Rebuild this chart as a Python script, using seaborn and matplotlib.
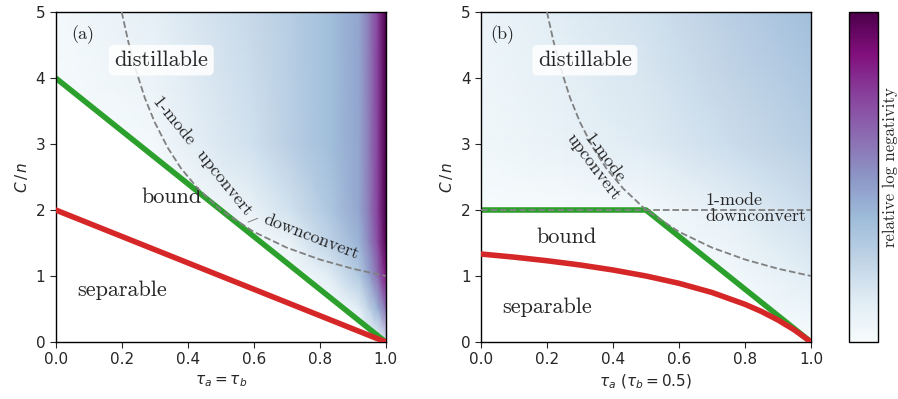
import numpy as np
import matplotlib
matplotlib.use("Agg")
import matplotlib.pyplot as plt
import seaborn as sns

sns.set_style("ticks")
plt.rcParams["font.family"] = ["DejaVu Sans"]
plt.rcParams["mathtext.fontset"] = "dejavusans"
serif = ["cmr10", "DejaVu Serif"]

# ---- panel (a): tau_a = tau_b ----
tau_a_green = [0.0, 1.0]
c_a_green = [4.0, 0.0]
tau_a_red = [0.0, 0.2, 0.4, 0.6, 0.8, 1.0]
c_a_red = [2.0, 1.6, 1.2, 0.8, 0.4, 0.0]

# 1-mode upconvert / downconvert curve (same in both panels)
tau_dash = [0.2, 0.22, 0.24, 0.27, 0.3, 0.34, 0.38, 0.43, 0.5, 0.6, 0.7, 0.8, 0.9, 1.0]
c_dash = [5.0, 4.55, 4.17, 3.70, 3.33, 2.94, 2.63, 2.33, 2.0, 1.67, 1.43, 1.25, 1.11, 1.0]

# relative log negativity
grid_a_tau = [0.0, 0.3, 0.59, 0.71, 0.83, 0.92, 0.95, 0.976, 1.0]
grid_a_c = [0.0, 0.5, 1.0, 1.5, 2.0, 3.0, 5.0]
neg_a = [
    [0.0, 0.0, 0.0, 0.0, 0.0, 0.0, 0.02, 0.05, 0.15],
    [0.0, 0.0, 0.0, 0.0, 0.0, 0.12, 0.25, 0.40, 0.60],
    [0.0, 0.0, 0.0, 0.0, 0.12, 0.30, 0.45, 0.62, 0.85],
    [0.0, 0.0, 0.0, 0.08, 0.25, 0.40, 0.55, 0.72, 0.97],
    [0.0, 0.0, 0.08, 0.18, 0.32, 0.45, 0.58, 0.75, 1.0],
    [0.0, 0.03, 0.18, 0.27, 0.36, 0.45, 0.58, 0.75, 1.0],
    [0.02, 0.10, 0.22, 0.28, 0.36, 0.45, 0.58, 0.75, 1.0],
]

# ---- panel (b): tau_b = 0.5 ----
tau_b_green = [0.0, 0.5, 1.0]
c_b_green = [2.0, 2.0, 0.0]
tau_b_red = [0.0, 0.1, 0.2, 0.3, 0.4, 0.5, 0.6, 0.7, 0.8, 0.85, 0.9, 0.95, 1.0]
c_b_red = [1.333, 1.286, 1.231, 1.167, 1.091, 1.0, 0.889, 0.75, 0.571, 0.462, 0.333, 0.182, 0.0]
tau_b_flat = [0.0, 1.0]
c_b_flat = [2.0, 2.0]

grid_b_tau = [0.0, 0.25, 0.5, 0.75, 1.0]
grid_b_c = [0.0, 1.0, 2.0, 3.0, 4.0, 5.0]
neg_b = [
    [0.0, 0.0, 0.0, 0.0, 0.0],
    [0.0, 0.0, 0.0, 0.02, 0.12],
    [0.0, 0.01, 0.02, 0.10, 0.20],
    [0.04, 0.08, 0.13, 0.20, 0.28],
    [0.05, 0.10, 0.16, 0.24, 0.32],
    [0.06, 0.12, 0.18, 0.27, 0.36],
]

cmap = sns.color_palette("BuPu", as_cmap=True)
green = "#2ca02c"
red = "#d62728"

fig = plt.figure(figsize=(8.98, 3.99), dpi=100)
ax_a = fig.add_axes([0.062, 0.1429, 0.3675, 0.827])
ax_b = fig.add_axes([0.5356, 0.1429, 0.3675, 0.827])
cax = fig.add_axes([0.9455, 0.1429, 0.0323, 0.827])


def draw_panel(ax, gt, gc, vals, tg, cg, tr, cr):
    ax.pcolormesh(gt, gc, np.array(vals), shading="gouraud", cmap=cmap,
                  vmin=0, vmax=1, zorder=0, rasterized=True)
    ax.fill_between(tg, 0, cg, color="white", lw=0, zorder=1)
    sns.lineplot(x=tg, y=cg, ax=ax, color=green, lw=4, zorder=2)
    sns.lineplot(x=tr, y=cr, ax=ax, color=red, lw=4, zorder=3)
    sns.lineplot(x=tau_dash, y=c_dash, ax=ax, color="gray", lw=1.3,
                 linestyle="--", zorder=4)
    ax.set_xlim(0, 1)
    ax.set_ylim(0, 5)
    ax.set_xticks([0, 0.2, 0.4, 0.6, 0.8, 1.0])
    ax.set_yticks([0, 1, 2, 3, 4, 5])
    ax.tick_params(labelsize=11, length=4)
    ax.set_ylabel("$C\\,/\\,n$", fontsize=11)
    for s in ax.spines.values():
        s.set_color("black")
        s.set_linewidth(1.0)


draw_panel(ax_a, grid_a_tau, grid_a_c, neg_a, tau_a_green, c_a_green, tau_a_red, c_a_red)
draw_panel(ax_b, grid_b_tau, grid_b_c, neg_b, tau_b_green, c_b_green, tau_b_red, c_b_red)
sns.lineplot(x=tau_b_flat, y=c_b_flat, ax=ax_b, color="gray", lw=1.3,
             linestyle="--", zorder=4)

ax_a.set_xlabel(r"$\tau_a = \tau_b$", fontsize=11)
ax_b.set_xlabel(r"$\tau_a\ (\tau_b = 0.5)$", fontsize=11)

box = dict(boxstyle="round,pad=0.25", fc="white", ec="none", alpha=0.85)

# panel (a) text
ax_a.text(0.083, 4.65, "(a)", family=serif, fontsize=13, ha="center", va="center")
ax_a.text(0.32, 4.27, "distillable", family=serif, fontsize=16, ha="center",
          va="center", bbox=box, zorder=5)
ax_a.text(0.445, 2.82, "1-mode  upconvert", family=serif, fontsize=13,
          rotation=-51, ha="center", va="center", zorder=5)
ax_a.text(0.775, 1.6, "downconvert", family=serif, fontsize=13,
          rotation=-21, ha="center", va="center", zorder=5)
ax_a.annotate("", xy=(0.575, 1.80), xytext=(0.62, 1.89),
              arrowprops=dict(arrowstyle="-", color="gray", lw=0.7))
ax_a.text(0.35, 2.2, "bound", family=serif, fontsize=16, ha="center", va="center")
ax_a.text(0.2, 0.79, "separable", family=serif, fontsize=16, ha="center", va="center")

# panel (b) text
ax_b.text(0.065, 4.65, "(b)", family=serif, fontsize=13, ha="center", va="center")
ax_b.text(0.315, 4.27, "distillable", family=serif, fontsize=16, ha="center",
          va="center", bbox=box, zorder=5)
ax_b.text(0.357, 2.72, "1-mode\nupconvert", family=serif, fontsize=13,
          rotation=-53, ha="center", va="center", linespacing=0.9, zorder=5)
ax_b.text(0.68, 2.02, "1-mode\ndownconvert", family=serif, fontsize=13,
          ha="left", va="center", linespacing=1.05, zorder=5)
ax_b.text(0.26, 1.59, "bound", family=serif, fontsize=16, ha="center", va="center")
ax_b.text(0.2, 0.52, "separable", family=serif, fontsize=16, ha="center", va="center")

# colorbar
sm = matplotlib.cm.ScalarMappable(norm=matplotlib.colors.Normalize(0, 1), cmap=cmap)
cb = fig.colorbar(sm, cax=cax, ticks=[])
cb.outline.set_edgecolor("black")
cb.outline.set_linewidth(1.0)
cb.set_label("relative log negativity", family=serif, fontsize=12, labelpad=3)
cb.ax.yaxis.label.set_y(0.53)

fig.savefig("out.png", dpi=100)
